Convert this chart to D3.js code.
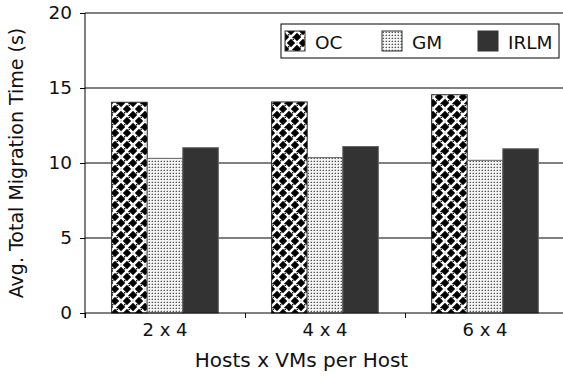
<!DOCTYPE html>
<html>
<head>
<meta charset="utf-8">
<script src="https://cdn.jsdelivr.net/npm/d3@7"></script>
<style>
  body { margin: 0; background: #fff; }
  text { font-family: 'DejaVu Sans', sans-serif; }
</style>
</head>
<body>
<div id="chart"></div>
<script>
let svgWidth = 563;
let svgHeight = 376;

let margin = { top: 13, right: -2, bottom: 63, left: 85 };
let width = svgWidth - margin.left - margin.right;
let height = svgHeight - margin.top - margin.bottom;

// data
let categories = ['2 x 4', '4 x 4', '6 x 4'];
let seriesNames = ['OC', 'GM', 'IRLM'];
let ocValues = [14.05, 14.07, 14.55];
let gmValues = [10.31, 10.36, 10.18];
let irlmValues = [11.02, 11.1, 10.95];
let yTicks = [0, 5, 10, 15, 20];

let seriesValues = [ocValues, gmValues, irlmValues];
let rows = [];
categories.forEach((c, i) => {
  seriesNames.forEach((s, j) => rows.push({ cat: c, series: s, value: seriesValues[j][i] }));
});

let svg = d3.select('#chart')
  .append('svg')
  .attr('width', svgWidth)
  .attr('height', svgHeight);

// fill patterns
let defs = svg.append('defs');

// woven lattice: white diagonals both ways on black, alternating over/under
let oc = defs.append('pattern')
  .attr('id', 'pat-oc')
  .attr('patternUnits', 'userSpaceOnUse')
  .attr('width', 12).attr('height', 12);
oc.append('rect').attr('width', 12).attr('height', 12).attr('fill', '#000');
oc.append('path')
  .attr('d', 'M-6,6 L6,-6 M0,12 L12,0 M6,18 L18,6 M-6,6 L6,18 M0,0 L12,12 M6,-6 L18,6')
  .attr('stroke', '#fff').attr('stroke-width', 2.6);
// breaks so one direction passes over the other
oc.append('path')
  .attr('d', 'M4.3,4.3 L3.2,3.2 M8.8,8.8 L7.7,7.7 M-1.2,1.2 L-0.2,0.2 M1.2,-1.2 L0.2,-0.2 M10.8,13.2 L11.8,12.2 M13.2,10.8 L12.2,11.8 M10.8,-1.2 L11.8,-0.2 M13.2,1.2 L12.2,0.2 M-1.2,10.8 L-0.2,11.8 M1.2,13.2 L0.2,12.2')
  .attr('stroke', '#000').attr('stroke-width', 1.3);
oc.append('path')
  .attr('d', 'M7.7,4.3 L8.8,3.2 M4.3,7.7 L3.2,8.8')
  .attr('stroke', '#000').attr('stroke-width', 0);

let gm = defs.append('pattern')
  .attr('id', 'pat-gm')
  .attr('patternUnits', 'userSpaceOnUse')
  .attr('width', 3).attr('height', 3);
gm.append('rect').attr('width', 3).attr('height', 3).attr('fill', '#f4f4f4');
gm.append('rect').attr('x', 1).attr('y', 1).attr('width', 1).attr('height', 1).attr('fill', '#555');
gm.append('rect').attr('x', 0).attr('y', 1).attr('width', 1).attr('height', 1).attr('fill', '#b0b0b0');
gm.append('rect').attr('x', 1).attr('y', 0).attr('width', 1).attr('height', 1).attr('fill', '#c8c8c8');

let fills = { OC: 'url(#pat-oc)', GM: 'url(#pat-gm)', IRLM: '#333333' };

let chartGroup = svg.append('g')
  .attr('transform', `translate(${margin.left}, ${margin.top})`);

let xScale = d3.scaleBand()
  .domain(categories)
  .range([0, width])
  .paddingInner(0.333)
  .paddingOuter(0.1665);

let x1Scale = d3.scaleBand()
  .domain(seriesNames)
  .range([0, xScale.bandwidth()]);

let yScale = d3.scaleLinear()
  .domain([0, 20])
  .range([height, 0]);

// gridlines
chartGroup.append('g')
  .selectAll('line')
  .data(yTicks.slice(1))
  .enter()
  .append('line')
  .attr('x1', 0)
  .attr('x2', width)
  .attr('y1', d => yScale(d))
  .attr('y2', d => yScale(d))
  .attr('stroke', '#000')
  .attr('stroke-width', 1);

// bars
chartGroup.append('g')
  .selectAll('rect')
  .data(rows)
  .enter()
  .append('rect')
  .attr('x', d => xScale(d.cat) + x1Scale(d.series))
  .attr('y', d => yScale(d.value))
  .attr('width', x1Scale.bandwidth())
  .attr('height', d => height - yScale(d.value))
  .attr('fill', d => fills[d.series])
  .attr('stroke', d => d.series === 'OC' ? '#222' : '#666')
  .attr('stroke-width', 1);

// axes
let xEdges = d3.scaleLinear().domain([0, categories.length]).range([0, width]);
let bottomAxis = d3.axisBottom(xEdges)
  .tickValues(d3.range(categories.length + 1))
  .tickSize(5)
  .tickFormat('');

chartGroup.append('g')
  .attr('transform', `translate(0,${height})`)
  .call(bottomAxis)
  .call(g => g.select('.domain').attr('d', `M0,0H${width}`));

chartGroup.append('g')
  .selectAll('text')
  .data(categories)
  .enter()
  .append('text')
  .attr('x', d => xScale(d) + xScale.bandwidth() / 2)
  .attr('y', height + 23)
  .attr('text-anchor', 'middle')
  .attr('font-size', 18)
  .attr('fill', '#111')
  .text(d => d);

let leftAxis = d3.axisLeft(yScale)
  .tickValues(yTicks)
  .tickSize(5)
  .tickPadding(8);

chartGroup.append('g')
  .call(leftAxis)
  .call(g => g.select('.domain').attr('d', `M0,${height + 5}V0`))
  .call(g => g.selectAll('text').attr('font-size', 18.5).attr('font-family', "'DejaVu Sans', sans-serif").attr('fill', '#111'));

// axis titles
chartGroup.append('text')
  .attr('transform', 'rotate(-90)')
  .attr('x', -height / 2)
  .attr('y', -62)
  .attr('text-anchor', 'middle')
  .attr('font-size', 19)
  .attr('fill', '#111')
  .text('Avg. Total Migration Time (s)');

chartGroup.append('text')
  .attr('x', 301.5 - margin.left)
  .attr('y', 367 - margin.top)
  .attr('text-anchor', 'middle')
  .attr('font-size', 20)
  .attr('fill', '#111')
  .text('Hosts x VMs per Host');

// legend
let legend = svg.append('g').attr('transform', 'translate(281,24)');
legend.append('rect')
  .attr('width', 278).attr('height', 34)
  .attr('fill', '#fff').attr('stroke', '#000').attr('stroke-width', 1);

let legendX = [4, 101, 197];
seriesNames.forEach((s, i) => {
  let item = legend.append('g').attr('transform', `translate(${legendX[i]},7)`);
  item.append('rect')
    .attr('width', 20).attr('height', 20)
    .attr('fill', fills[s]).attr('stroke', '#333').attr('stroke-width', 1);
  item.append('text')
    .attr('x', 30).attr('y', 18)
    .attr('font-size', 18.5)
    .attr('fill', '#111')
    .text(s);
});
</script>
</body>
</html>
